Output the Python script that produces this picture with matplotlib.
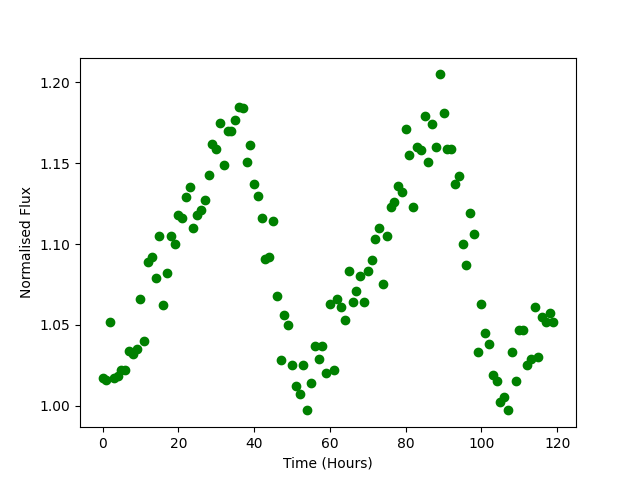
import numpy as np
import matplotlib
matplotlib.use("Agg")
import matplotlib.pyplot as plt

# time in hours, one reading per hour
time_hours = np.arange(0, 120)

flux = [
    1.017, 1.016, 1.052, 1.017, 1.018, 1.022, 1.022, 1.034, 1.032, 1.035,
    1.066, 1.040, 1.089, 1.092, 1.079, 1.105, 1.062, 1.082, 1.105, 1.100,
    1.118, 1.116, 1.129, 1.135, 1.110, 1.118, 1.121, 1.127, 1.143, 1.162,
    1.159, 1.175, 1.149, 1.170, 1.170, 1.177, 1.185, 1.184, 1.151, 1.161,
    1.137, 1.130, 1.116, 1.091, 1.092, 1.114, 1.068, 1.028, 1.056, 1.050,
    1.025, 1.012, 1.007, 1.025, 0.997, 1.014, 1.037, 1.029, 1.037, 1.020,
    1.063, 1.022, 1.066, 1.061, 1.053, 1.083, 1.064, 1.071, 1.080, 1.064,
    1.083, 1.090, 1.103, 1.110, 1.075, 1.105, 1.123, 1.126, 1.136, 1.132,
    1.171, 1.155, 1.123, 1.160, 1.158, 1.179, 1.151, 1.174, 1.160, 1.205,
    1.181, 1.159, 1.159, 1.137, 1.142, 1.100, 1.087, 1.119, 1.106, 1.033,
    1.063, 1.045, 1.038, 1.019, 1.015, 1.002, 1.005, 0.997, 1.033, 1.015,
    1.047, 1.047, 1.025, 1.029, 1.061, 1.030, 1.055, 1.052, 1.057, 1.052,
]

fig = plt.figure(figsize=(6.4, 4.8), dpi=100)
plt.plot(time_hours, flux, 'go')
plt.xlabel("Time (Hours)")
plt.ylabel("Normalised Flux")
plt.savefig("out.png")
